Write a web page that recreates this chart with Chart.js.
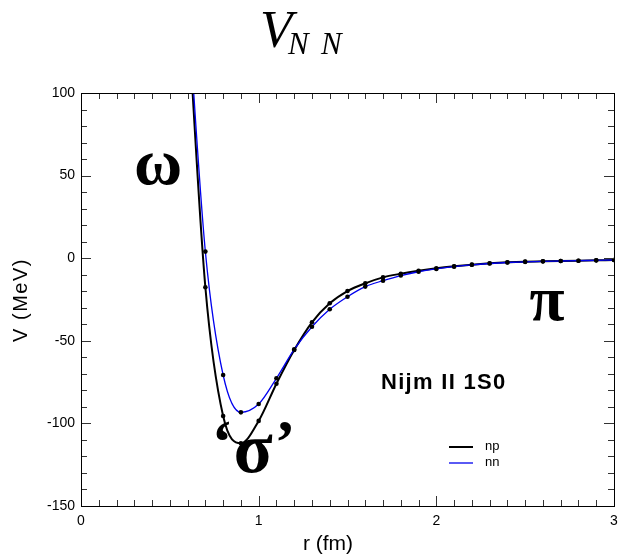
<!DOCTYPE html>
<html>
<head>
<meta charset="utf-8">
<script src="https://cdn.jsdelivr.net/npm/chart.js@4.4.1/dist/chart.umd.min.js"></script>
<style>
  html, body { margin: 0; padding: 0; background: #fff; }
  #wrap { width: 621px; height: 559px; position: relative; }
</style>
</head>
<body>
<div id="wrap"><canvas id="c" width="621" height="559"></canvas></div>
<script>
// ---- data ----
const rValues = [0.6, 0.7, 0.8, 0.9, 1.0, 1.1, 1.2, 1.3, 1.4, 1.5, 1.6, 1.7, 1.8, 1.9, 2.0,
                 2.1, 2.2, 2.3, 2.4, 2.5, 2.6, 2.7, 2.8, 2.9, 3.0];
const npValues = [150, -17.6, -95.5, -112, -98.5, -76, -55.6, -38.8, -27.3, -19.9, -15.2, -11.6, -9.4, -7.6, -6.1,
                  -4.9, -3.9, -3.1, -2.5, -2.1, -1.9, -1.7, -1.5, -1.3, -1.1];
const nnValues = [155, 4.0, -70.7, -93.3, -88.3, -72.7, -55.2, -41.5, -30.9, -23.3, -17.2, -13.6, -10.5, -8.2, -6.5,
                  -5.1, -4.0, -3.2, -2.6, -2.2, -1.9, -1.7, -1.5, -1.3, -1.1];
const xTickLabels = [0, 1, 2, 3];
const yTickLabels = [-150, -100, -50, 0, 50, 100];
const seriesNames = ['np', 'nn'];

const toPts = (ys) => rValues.map((r, i) => ({ x: r, y: ys[i] }));
const radii = rValues.map(r => (r < 0.65 ? 0 : 2.3));

const SANS = '"Liberation Sans", Arial, sans-serif';
const SERIF = '"Liberation Serif", "Times New Roman", serif';

const framePlugin = {
  id: 'frame',
  afterDraw(chart) {
    const ctx = chart.ctx;
    const a = chart.chartArea;
    const xs = chart.scales.x, ys = chart.scales.y;
    ctx.save();
    // inward ticks on all four sides
    ctx.strokeStyle = '#333';
    ctx.lineWidth = 1;
    ctx.beginPath();
    for (let k = 0; k <= 30; k++) {
      const v = k / 10;
      const px = Math.round(xs.getPixelForValue(v)) + 0.5;
      const len = (k % 10 === 0) ? 10 : 6;
      ctx.moveTo(px, a.bottom); ctx.lineTo(px, a.bottom - len);
      ctx.moveTo(px, a.top); ctx.lineTo(px, a.top + len);
    }
    for (let v = -150; v <= 100; v += 10) {
      const py = Math.round(ys.getPixelForValue(v)) + 0.5;
      const len = (v % 50 === 0) ? 10 : 6;
      ctx.moveTo(a.left, py); ctx.lineTo(a.left + len, py);
      ctx.moveTo(a.right, py); ctx.lineTo(a.right - len, py);
    }
    ctx.stroke();
    // frame
    ctx.strokeStyle = '#000';
    ctx.strokeRect(Math.round(a.left) + 0.5, Math.round(a.top) + 0.5,
                   Math.round(a.right - a.left), Math.round(a.bottom - a.top));

    ctx.fillStyle = '#000';
    // title V_NN
    ctx.textBaseline = 'alphabetic';
    ctx.textAlign = 'left';
    ctx.font = 'italic 53px ' + SERIF;
    ctx.fillText('V', 260, 47);
    ctx.font = 'italic 31px ' + SERIF;
    ctx.fillText('N', 288, 54);
    ctx.fillText('N', 321, 54);

    // axis titles
    ctx.textAlign = 'center';
    ctx.textBaseline = 'middle';
    ctx.font = '21px ' + SANS;
    ctx.fillText('r (fm)', 328, 544);
    ctx.save();
    ctx.translate(21, 300);
    ctx.rotate(-Math.PI / 2);
    ctx.font = '20px ' + SANS;
    ctx.letterSpacing = '1.5px';
    ctx.fillText('V (MeV)', 0, 0);
    ctx.restore();

    // annotations
    ctx.textBaseline = 'alphabetic';
    ctx.font = 'bold 66px ' + SERIF;
    ctx.fillText('\u03C9', 158, 184);
    ctx.font = 'bold 64px ' + SERIF;
    ctx.fillText('\u03C0', 547, 320);
    ctx.font = 'bold 62px ' + SERIF;
    ctx.fillText('\u2018', 222, 462);
    ctx.fillText('\u2019', 285, 462);
    ctx.font = 'bold 72px ' + SERIF;
    ctx.fillText('\u03C3', 253, 472);

    ctx.save();
    ctx.font = 'bold 22px ' + SANS;
    ctx.textAlign = 'left';
    ctx.letterSpacing = '1.3px';
    ctx.fillText('Nijm II 1S0', 381, 389);
    ctx.restore();

    // legend
    ctx.font = '13px ' + SANS;
    ctx.textAlign = 'left';
    ctx.textBaseline = 'middle';
    const ly = [447, 463];
    chart.data.datasets.forEach((ds, i) => {
      ctx.strokeStyle = ds.borderColor;
      ctx.lineWidth = ds.borderWidth;
      ctx.beginPath();
      ctx.moveTo(449, ly[i]); ctx.lineTo(473, ly[i]);
      ctx.stroke();
      ctx.fillText(ds.label, 485, ly[i] - 1);
    });
    ctx.restore();
  }
};

new Chart(document.getElementById('c'), {
  type: 'line',
  data: {
    datasets: [
      { label: seriesNames[0], data: toPts(npValues), borderColor: '#000000', borderWidth: 2,
        pointRadius: radii, pointBackgroundColor: '#000', pointBorderColor: '#000', pointBorderWidth: 0,
        cubicInterpolationMode: 'monotone', order: 2 },
      { label: seriesNames[1], data: toPts(nnValues), borderColor: '#0000ee', borderWidth: 1.3,
        pointRadius: radii, pointBackgroundColor: '#000', pointBorderColor: '#000', pointBorderWidth: 0,
        cubicInterpolationMode: 'monotone', order: 1 }
    ]
  },
  options: {
    responsive: false,
    animation: false,
    devicePixelRatio: 1,
    layout: { padding: { left: 0, right: 7, top: 93, bottom: 0 } },
    plugins: { legend: { display: false }, tooltip: { enabled: false }, title: { display: false } },
    scales: {
      x: {
        type: 'linear', min: 0, max: 3,
        afterBuildTicks: (s) => { s.ticks = xTickLabels.map(v => ({ value: v })); },
        afterFit: (s) => { s.height = 53; s.paddingLeft = 0; s.paddingRight = 0; },
        grid: { display: false, drawTicks: false },
        border: { display: false },
        ticks: { color: '#000', font: { family: SANS, size: 14 }, padding: 7, maxRotation: 0 }
      },
      y: {
        type: 'linear', min: -150, max: 100,
        afterBuildTicks: (s) => { s.ticks = yTickLabels.map(v => ({ value: v })); },
        afterFit: (s) => { s.width = 81; s.paddingTop = 0; s.paddingBottom = 0; },
        grid: { display: false, drawTicks: false },
        border: { display: false },
        ticks: { color: '#000', font: { family: SANS, size: 14 }, padding: 6 }
      }
    }
  },
  plugins: [framePlugin]
});
</script>
</body>
</html>
